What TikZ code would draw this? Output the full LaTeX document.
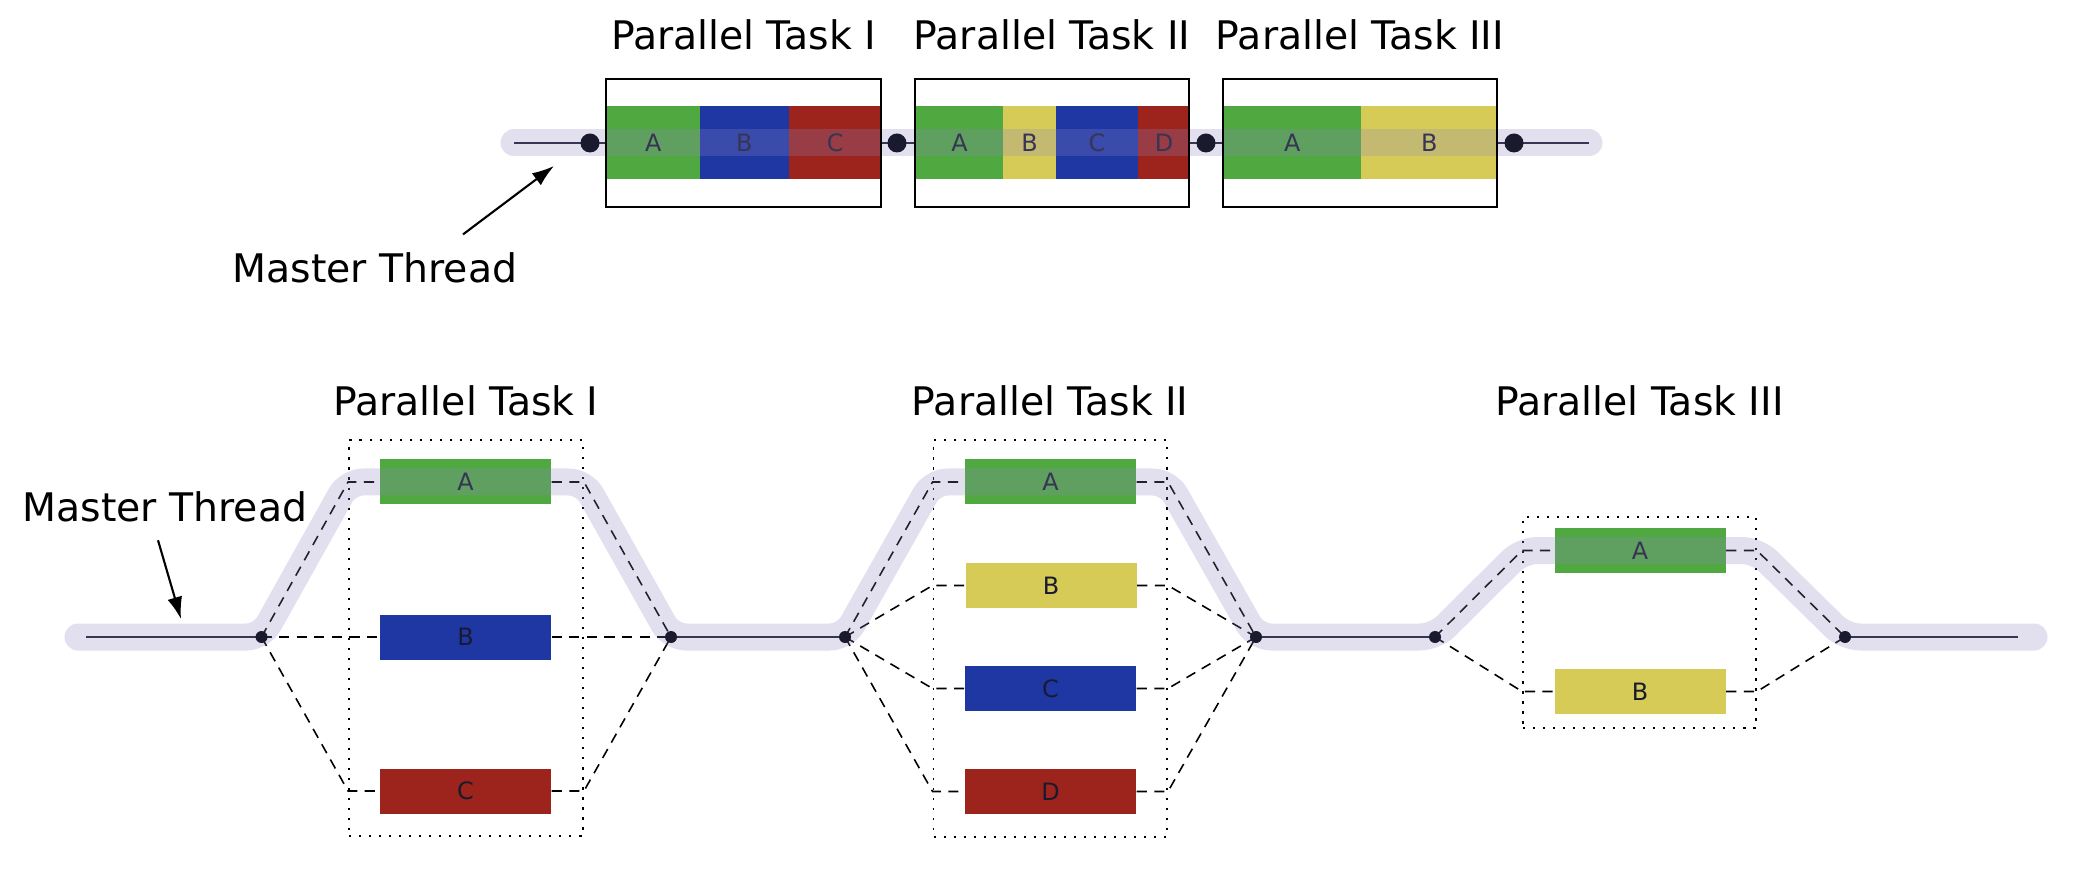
\documentclass[tikz,border=0pt]{standalone}
\usepackage{fontspec}
\setmainfont{DejaVu Sans}
\usetikzlibrary{arrows.meta,calc,positioning}
\definecolor{taskGreen}{HTML}{50A840}
\definecolor{taskBlue}{HTML}{1E37A3}
\definecolor{taskRed}{HTML}{9C241C}
\definecolor{taskYellow}{HTML}{D5CB56}
\definecolor{bandLila}{RGB}{143,135,195}
\definecolor{dotDark}{HTML}{1A1A2E}

\begin{document}
\begin{tikzpicture}[x=0.1mm,y=-0.1mm,
  tblk/.style={inner sep=0pt,minimum height=0.73cm,text=dotDark,font=\fontsize{6.8}{8}\selectfont},
  bblk/.style={tblk,minimum width=1.71cm,minimum height=0.45cm},
  tframe/.style={draw=black,line width=0.6pt,minimum height=1.28cm,inner sep=0pt},
  taskbox/.style={draw=black,dash pattern=on 0.6pt off 2.25pt,line width=0.55pt,inner sep=0pt},
  title/.style={inner sep=0pt,font=\fontsize{11.2}{13}\selectfont},
  thread/.style={draw=dotDark,line width=0.55pt},
  band/.style={draw=bandLila,draw opacity=0.25,line width=0.27cm,line cap=round,line join=round},
  fork/.style={draw=black,dash pattern=on 2.9pt off 2.1pt,line width=0.45pt},
  pointer/.style={-{Latex[length=2.2mm,width=1.5mm]},line width=0.6pt}]
\fill[white] (0,0) rectangle (2092,892);
\useasboundingbox (0,0) rectangle (2092,892);

% --- upper picture: tasks one after the other
\coordinate (tL) at (514,143);
\coordinate (tR) at (1589,143);
\foreach \nm/\xx in {td0/590,td1/897,td2/1206,td3/1514}
  \coordinate (\nm) at (\xx,143);
\draw[thread] (tL) -- (tR);
\foreach \nm/\xa/\xb/\col/\lab in {t1a/606/699/taskGreen/A,t1b/699/788/taskBlue/B,t1c/788/881/taskRed/C,
    t2a/915/1002.5/taskGreen/A,t2b/1002.5/1055/taskYellow/B,t2c/1055/1137.5/taskBlue/C,t2d/1137.5/1189/taskRed/D,
    t3a/1223/1360/taskGreen/A,t3b/1360/1497/taskYellow/B}
  \node[tblk,fill=\col,minimum width={(\xb-\xa)*0.1mm},anchor=west] (\nm) at (\xa,143) {\lab};
\draw[band] (tL) -- (tR);
\node[tframe,minimum width=2.75cm] (f1) at (743.5,143) {};
\node[tframe,minimum width=2.74cm] (f2) at (1052,143) {};
\node[tframe,minimum width=2.74cm] (f3) at (1360,143) {};
\node[title,above=0.27cm of f1] (tt1) {Parallel Task I};
\node[title,above=0.27cm of f2] (tt2) {Parallel Task II};
\node[title,above=0.27cm of f3] (tt3) {Parallel Task III};
\foreach \d in {td0,td1,td2,td3}
  \fill[dotDark] (\d) circle (0.95mm);
\node[title,anchor=base] (mtTop) at (375,283) {Master Thread};
\coordinate (mtTopTip) at (554,166);
\draw[pointer] ([shift={(88,-18)}]mtTop.north) -- (mtTopTip);

% --- lower picture: tasks split into threads
\coordinate (bL) at (86,637);
\coordinate (bR) at (2018,637);
\coordinate (bandL) at (78,637);
\coordinate (bandR) at (2034,637);
\foreach \nm/\xx in {bd1/261.5,bd2/671,bd3/845,bd4/1256,bd5/1435,bd6/1845}
  \coordinate (\nm) at (\xx,637);
\node[taskbox,minimum width=2.34cm,minimum height=3.96cm] (box1) at (466,638) {};
\node[taskbox,minimum width=2.335cm,minimum height=3.97cm] (box2) at (1050.25,638.5) {};
\node[taskbox,minimum width=2.33cm,minimum height=2.11cm] (box3) at (1639.5,622.5) {};
\coordinate (hline) at (0,416);
\node[title,anchor=base] (h1) at (box1.north |- hline) {Parallel Task I};
\node[title,anchor=base] (h2) at (box2.north |- hline) {Parallel Task II};
\node[title,anchor=base] (h3) at (box3.north |- hline) {Parallel Task III};

\node[bblk,fill=taskGreen] (b1a) at (465.5,482) {A};
\node[bblk,fill=taskBlue] (b1b) at (465.5,637) {B};
\node[bblk,fill=taskRed] (b1c) at (465.5,791) {C};
\node[bblk,fill=taskGreen] (b2a) at (1050.5,482) {A};
\node[bblk,fill=taskYellow] (b2b) at (1051,585.5) {B};
\node[bblk,fill=taskBlue] (b2c) at (1050.5,688.5) {C};
\node[bblk,fill=taskRed] (b2d) at (1050.5,791.5) {D};
\node[bblk,fill=taskGreen] (b3a) at (1640,550.5) {A};
\node[bblk,fill=taskYellow] (b3b) at (1640,691.5) {B};

\foreach \b in {b1a,b1b,b1c}{
  \draw[fork] (bd1) -- (box1.west |- \b) -- (\b);
  \draw[fork] (\b) -- (box1.east |- \b) -- (bd2);
}
\foreach \b in {b2a,b2b,b2c,b2d}{
  \draw[fork] (bd3) -- (box2.west |- \b) -- (\b);
  \draw[fork] (\b) -- (box2.east |- \b) -- (bd4);
}
\foreach \b in {b3a,b3b}{
  \draw[fork] (bd5) -- (box3.west |- \b) -- (\b);
  \draw[fork] (\b) -- (box3.east |- \b) -- (bd6);
}
\draw[thread] (bL) -- (bd1) (bd2) -- (bd3) (bd4) -- (bd5) (bd6) -- (bR);
\draw[band,rounded corners=0.15cm] (bandL) -- (bd1) -- (box1.west |- b1a) -- (box1.east |- b1a) -- (bd2)
  -- (bd3) -- (box2.west |- b2a) -- (box2.east |- b2a) -- (bd4)
  -- (bd5) -- (box3.west |- b3a) -- (box3.east |- b3a) -- (bd6) -- (bandR);
\foreach \d in {bd1,bd2,bd3,bd4,bd5,bd6}
  \fill[dotDark] (\d) circle (0.6mm);

\node[title,anchor=base] (mtBot) at (165,522) {Master Thread};
\coordinate (mtBotTip) at (181,619);
\draw[pointer] ([shift={(-7,17)}]mtBot.south) -- (mtBotTip);
\end{tikzpicture}
\end{document}
